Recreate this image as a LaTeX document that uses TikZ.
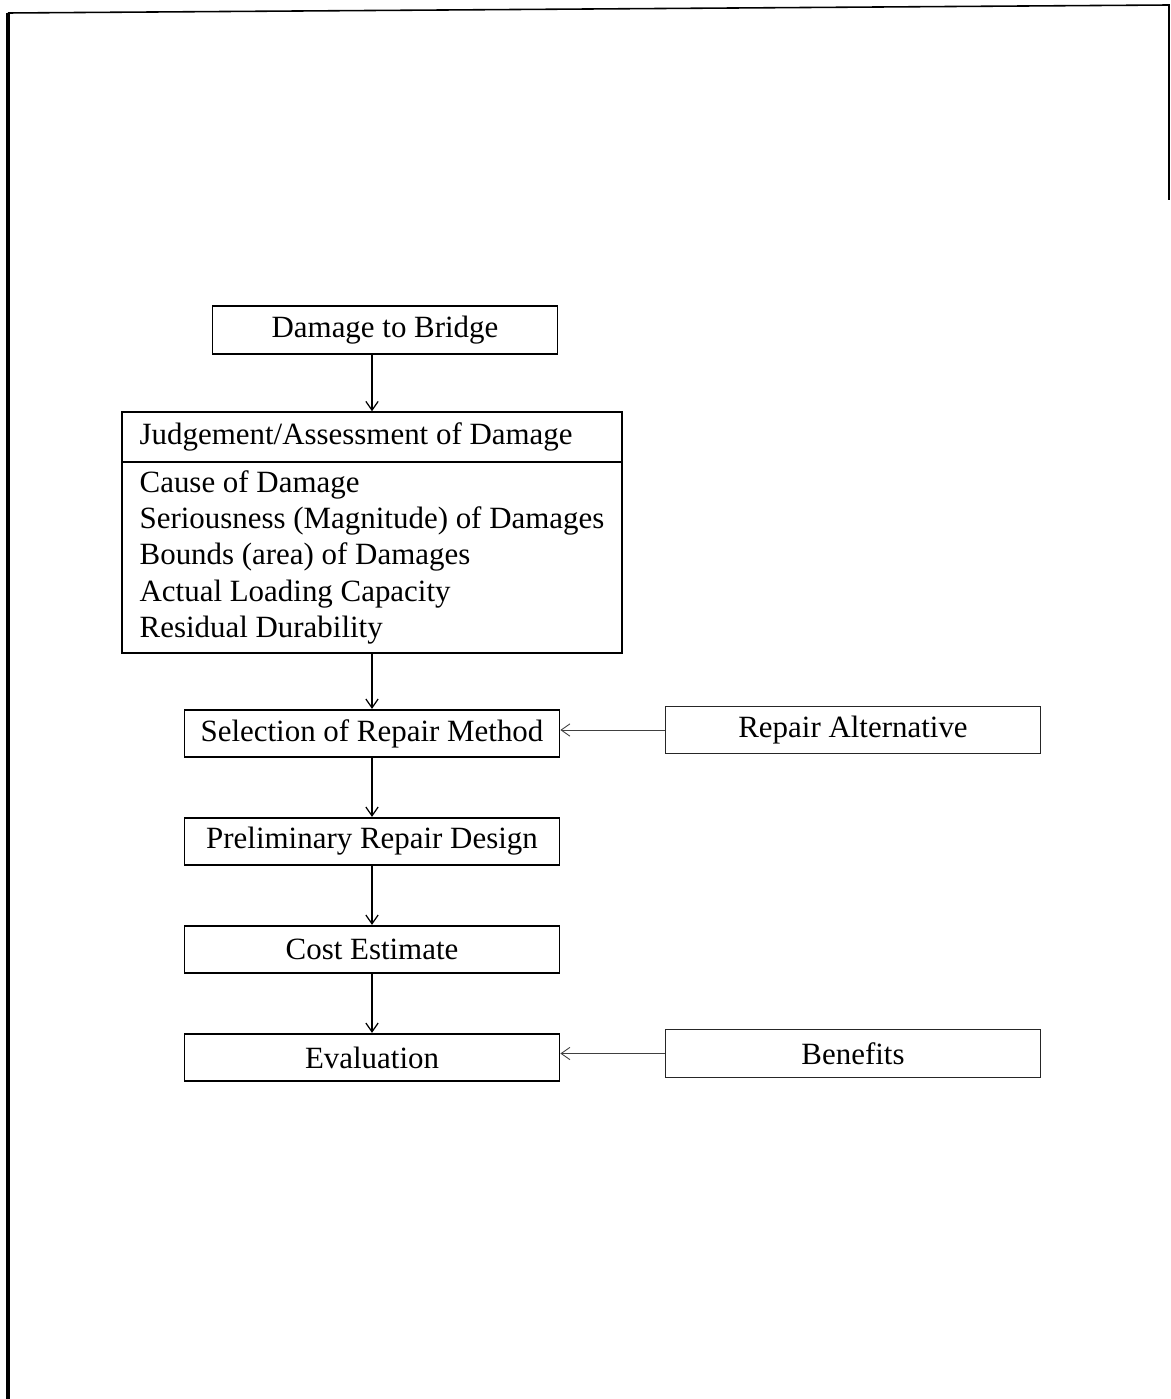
\documentclass[tikz,border=0pt]{standalone}
\usepackage{fontspec}
\setmainfont{Liberation Serif}
\usetikzlibrary{shapes.multipart,arrows.meta}

\begin{document}
\begin{tikzpicture}[node distance=2.16cm, >={Straight Barb[length=5pt,width=7pt]},
  block/.style={rectangle, minimum width=7.5cm, minimum height=0.95cm, text centered, draw=black, line width=1pt, inner sep=0pt, font=\fontsize{17.6}{20.7}\selectfont},
  side/.style={block, draw=black!85, line width=0.8pt},
  flow/.style={->, line width=0.7pt},
  feed/.style={->, line width=0.5pt, draw=black!75}]

\useasboundingbox (0,0) rectangle (23.42,-27.98);

% page frame
\draw[line width=2pt] (0.16,-0.26) -- (0.16,-27.98);
\draw[line width=0.9pt] (0.16,-0.26) -- (23.38,-0.1) -- (23.38,-4.0);

\node (damage) [block, minimum width=6.9cm] at (7.7,-6.6) {Damage to Bridge};
\node (judge) [rectangle split, rectangle split parts=2, rectangle split part align={left}, draw=black, line width=1pt, minimum width=9.98cm, inner xsep=0.36cm, inner ysep=2pt, font=\fontsize{17.6}{20.7}\selectfont, below of=damage, xshift=-0.26cm, yshift=-1.89cm] {\rule[-7.5pt]{0pt}{23.5pt}Judgement/Assessment of Damage \nodepart{two}\begin{tabular}{@{}l@{}}Cause of Damage\\ Seriousness (Magnitude) of Damages\\ Bounds (area) of Damages\\ Actual Loading Capacity\\ Residual Durability\end{tabular}};

\node (selection) [block, below of=judge, yshift=-1.86cm] {Selection of Repair Method};
\node (prelim) [block, below of=selection] {Preliminary Repair Design};
\node (cost) [block, below of=prelim] {Cost Estimate};
\node (evaluation) [block, below of=cost] {Evaluation};

\node (repairalt) [side, right of=selection, xshift=7.46cm, yshift=0.07cm] {Repair Alternative};
\node (benefits) [side, right of=evaluation, xshift=7.46cm, yshift=0.08cm] {Benefits};

\draw[flow] (damage.south -| judge.north) -- (judge.north);
\draw[flow] (judge.south) -- (selection.north);
\draw[flow] (selection) -- (prelim);
\draw[flow] (prelim) -- (cost);
\draw[flow] (cost) -- (evaluation);
\draw[feed] (repairalt.west) -- (repairalt.west -| selection.east);
\draw[feed] (benefits.west) -- (benefits.west -| evaluation.east);

\end{tikzpicture}
\end{document}
